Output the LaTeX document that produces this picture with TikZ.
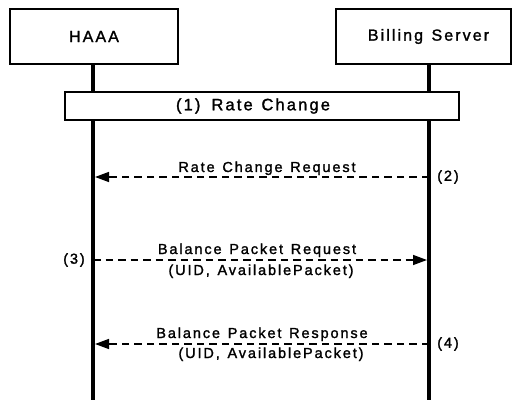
\documentclass[tikz,border=0pt]{standalone}
\usepackage{fontspec}
\setmainfont{Liberation Sans}[LetterSpace=13,WordSpace=1.3,FakeBold=1.5]
\usetikzlibrary{arrows.meta}
\begin{document}
\begin{tikzpicture}[x=1pt,y=-1pt,
  entity/.style={draw,line width=1.4pt,minimum width=#1,minimum height=55pt,inner sep=0pt,font=\fontsize{16}{18}\selectfont},
  lifeline/.style={line width=4.5pt},
  msg/.style={line width=1.5pt,dash pattern=on 7.5pt off 5pt,-{Triangle[length=14pt,width=10pt]}},
  lbl/.style={anchor=base,inner sep=0pt,font=\fontsize{14.5}{17}\selectfont},
  num/.style={anchor=center,inner sep=0pt,font=\fontsize{14.5}{17}\selectfont}]
\useasboundingbox (0,0) rectangle (513,403);
\node[entity=168pt] (haaa) at (94,36.5) {HAAA};
\node[entity=175pt] (bill) at (423.5,36.5) {\hspace{10pt}Billing Server};
\coordinate (htop) at (93,64);
\coordinate (hbot) at (93,400);
\coordinate (btop) at (429,64);
\coordinate (bbot) at (429,400);
\draw[lifeline] (htop) -- (hbot);
\draw[lifeline] (btop) -- (bbot);
\node[draw,fill=white,line width=1.3pt,minimum width=394pt,minimum height=28pt,inner sep=0pt,font=\fontsize{16.5}{18}\selectfont] (rate) at (262,106) {(1)\hspace{11pt}Rate Change\kern18pt\null};
% message coordinates
\coordinate (h2) at (95,177);
\coordinate (b2) at (429,177);
\coordinate (h3) at (93,260);
\coordinate (b3) at (427,260);
\coordinate (h4) at (95,344);
\coordinate (b4) at (429,344);
\draw[msg] (b2) -- (h2);
\draw[msg] (h3) -- (b3);
\draw[msg] (b4) -- (h4);
\node[lbl] (l2) at (267,172) {Rate Change Request};
\node[lbl] (l3a) at (257,254) {Balance Packet Request};
\node[lbl] (l3b) at (261,275) {(UID, AvailablePacket)};
\node[lbl] (l4a) at (262,338) {Balance Packet Response};
\node[lbl] (l4b) at (271,358) {(UID, AvailablePacket)};
\node[num] (n2) at (448,177) {(2)};
\node[num] (n3) at (74,260) {(3)};
\node[num] (n4) at (448,344) {(4)};
\end{tikzpicture}
\end{document}
